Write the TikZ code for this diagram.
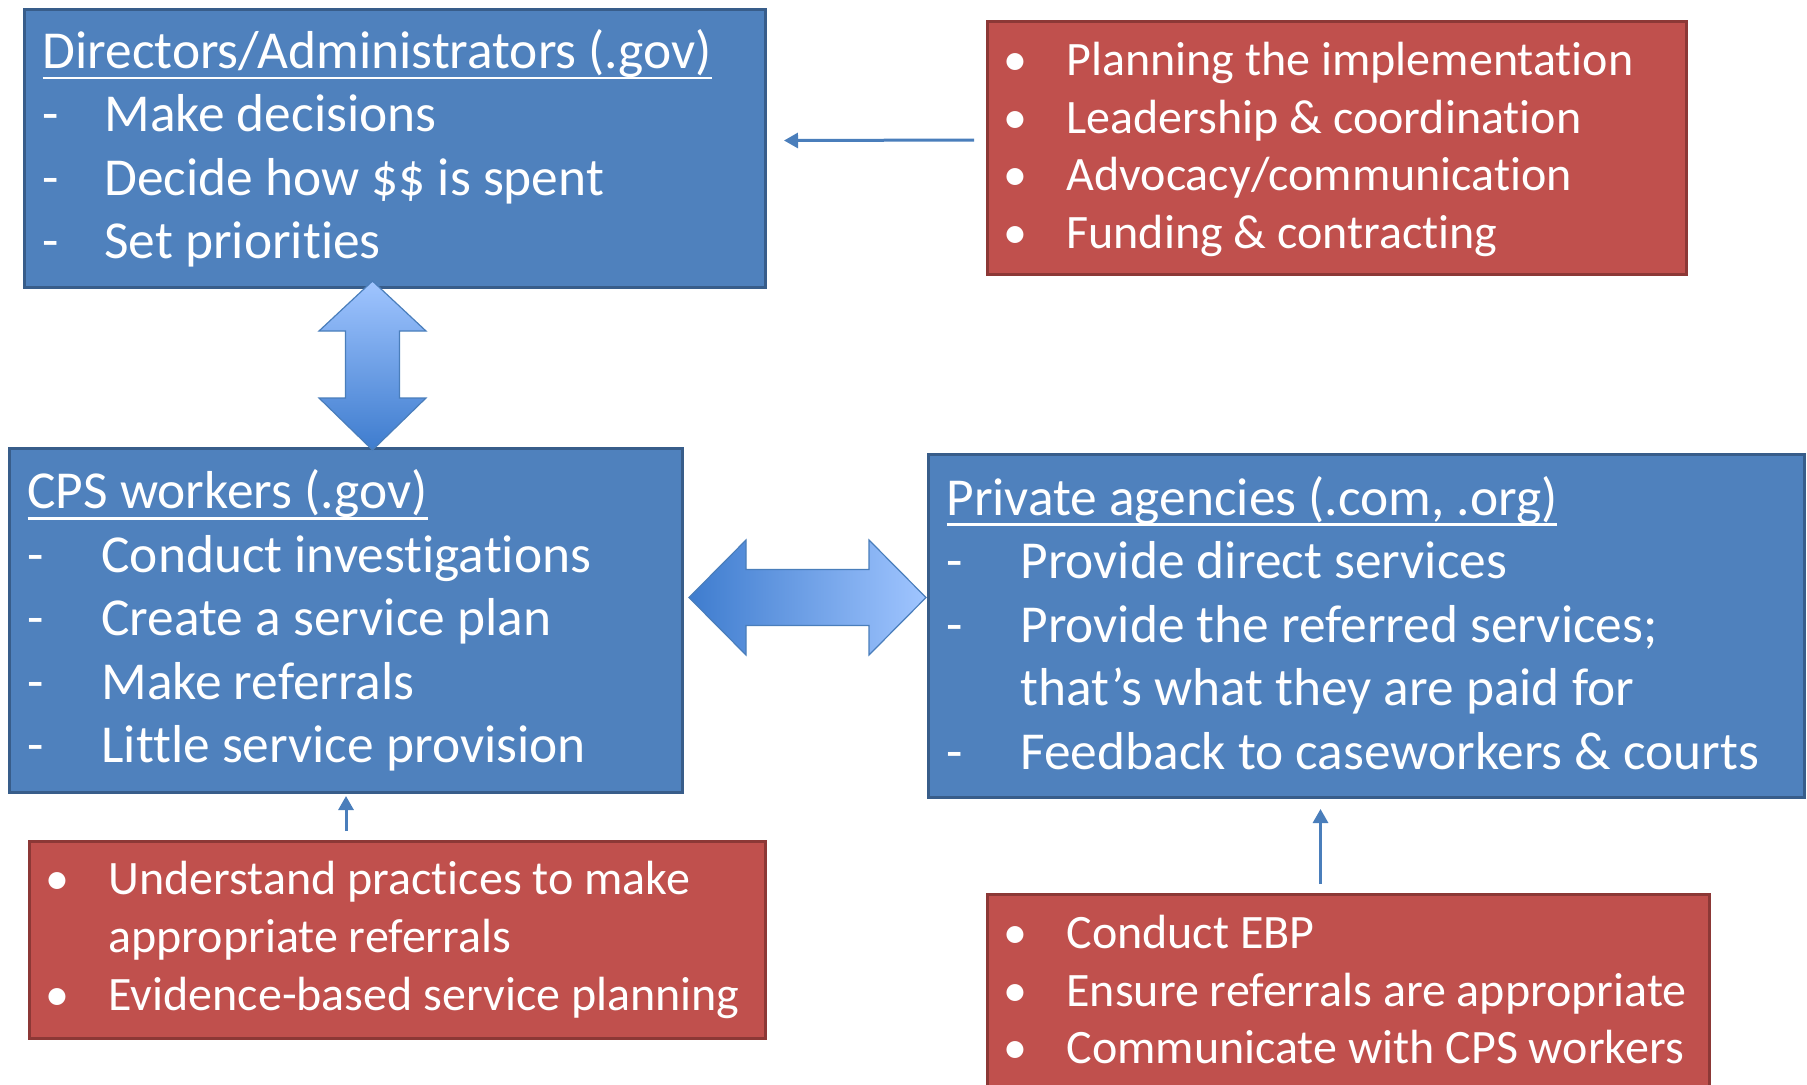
\documentclass[tikz,border=0pt]{standalone}
\usepackage{fontspec}
\setmainfont{Carlito}[Ligatures=NoCommon]
\usepackage{tikz}
\usetikzlibrary{arrows.meta, positioning, calc}
\definecolor{boxblue}{RGB}{79,129,189}
\definecolor{boxblueedge}{RGB}{56,93,138}
\definecolor{boxred}{RGB}{192,80,77}
\definecolor{boxrededge}{RGB}{140,56,54}
\definecolor{linkblue}{RGB}{74,126,187}
\definecolor{shadelight}{RGB}{160,197,255}
\definecolor{shadedark}{RGB}{62,124,206}
\newcommand{\ultitle}[1]{\setbox0\hbox{#1}\rlap{\rule[-5.5pt]{\wd0}{1.3pt}}\box0}
\newcommand{\dashitem}[2]{\makebox[#1][l]{-}#2}
\newcommand{\bulitem}[1]{\makebox[30.5pt][l]{\hspace{-1pt}\textbullet}#1}

\begin{document}
\begin{tikzpicture}[x=0.5pt, y=-0.5pt,
    bluebox/.style={draw=boxblueedge, line width=1.5pt, fill=boxblue, text=white, anchor=north west, align=flush left, inner xsep=9pt, inner ysep=0pt, font=\fontsize{26.7pt}{31.75pt}\selectfont},
    redbox/.style={draw=boxrededge, line width=1.5pt, fill=boxred, text=white, anchor=north west, align=flush left, inner xsep=9pt, inner ysep=0pt, font=\fontsize{24pt}{28.8pt}\selectfont},
    link/.style={-{Triangle[length=7pt, width=7.5pt]}, draw=linkblue, line width=1.5pt},
    bigarrow/.style={draw=linkblue, line width=0.6pt, line join=miter}
]
    \useasboundingbox (0,0) rectangle (1807,1084);
    \clip (0,0) rectangle (1807,1084);

    % blue boxes
    \node[bluebox, text width=352.5pt, minimum height=139pt] (dirs) at (23,8)
        {\ultitle{Directors/Administrators (.gov)}\\
         \dashitem{31pt}{Make decisions}\\
         \dashitem{31pt}{Decide how \$\$ is spent}\\
         \dashitem{31pt}{Set priorities}};
    \node[bluebox, text width=318.5pt, minimum height=172pt] (cps) at (8,447)
        {\ultitle{CPS workers (.gov)}\\
         \dashitem{37pt}{Conduct investigations}\\
         \dashitem{37pt}{Create a service plan}\\
         \dashitem{37pt}{Make referrals}\\
         \dashitem{37pt}{Little service provision}};
    \node[bluebox, text width=420pt, minimum height=171.5pt] (priv) at (927,453)
        {\ultitle{Private agencies (.com, .org)}\\
         \dashitem{37pt}{Provide direct services}\\
         \dashitem{37pt}{Provide the referred services;}\\
         \hspace*{37pt}that’s what they are paid for\\
         \dashitem{37pt}{Feedback to caseworkers \& courts}\rule[-3.5pt]{0pt}{1pt}};

    % red boxes
    \node[redbox, text width=331.5pt, minimum height=126.5pt] (redA) at (986,20)
        {\bulitem{Planning the implementation}\\
         \bulitem{Leadership \& coordination}\\
         \bulitem{Advocacy/communication}\\
         \bulitem{\raisebox{0pt}[\height][2.7pt]{Funding \& contracting}}};
    \node[redbox, text width=350pt, minimum height=98.5pt] (redB) at (28,840)
        {\bulitem{Understand practices to make}\\
         \hspace*{30.5pt}appropriate referrals\\
         \bulitem{Evidence-based service planning}};
    \node[redbox, text width=343pt, minimum height=98.5pt] (redC) at (986,893)
        {\bulitem{Conduct EBP}\\
         \bulitem{Ensure referrals are appropriate}\\
         \bulitem{Communicate with CPS workers}\rule[-3.5pt]{0pt}{1pt}};

    % thin arrows
    \draw[link] ([xshift=-6pt, yshift=4pt]redA.west) -- ([xshift=8.5pt, yshift=4pt]dirs.east);
    \draw[link] ([yshift=4.5pt]redB.north -| cps.south) -- ([yshift=-1pt]cps.south);
    \coordinate (rc) at ([xshift=-14pt, yshift=4.5pt]redC.north);
    \draw[link] (rc) -- ($(rc |- priv.south)+(0pt,-5pt)$);

    % block arrows
    \coordinate (vtip) at ([xshift=-11.25pt, yshift=4pt]dirs.south);
    \draw[bigarrow, top color=shadelight, bottom color=shadedark] (vtip)
        -- ++(53.5,50) -- ++(-26.5,0) -- ++(0,67) -- ++(26.5,0) -- ++(-53.5,52)
        -- ++(-53.5,-52) -- ++(26.5,0) -- ++(0,-67) -- ++(-26.5,0) -- cycle;
    \coordinate (htip) at ([xshift=2.5pt, yshift=11.5pt]cps.east);
    \draw[bigarrow, left color=shadedark, right color=shadelight] (htip)
        -- ++(57,-57.5) -- ++(0,29.5) -- ++(123,0) -- ++(0,-29.5) -- ++(57,57.5)
        -- ++(-57,57.5) -- ++(0,-29.5) -- ++(-123,0) -- ++(0,29.5) -- cycle;
\end{tikzpicture}
\end{document}
